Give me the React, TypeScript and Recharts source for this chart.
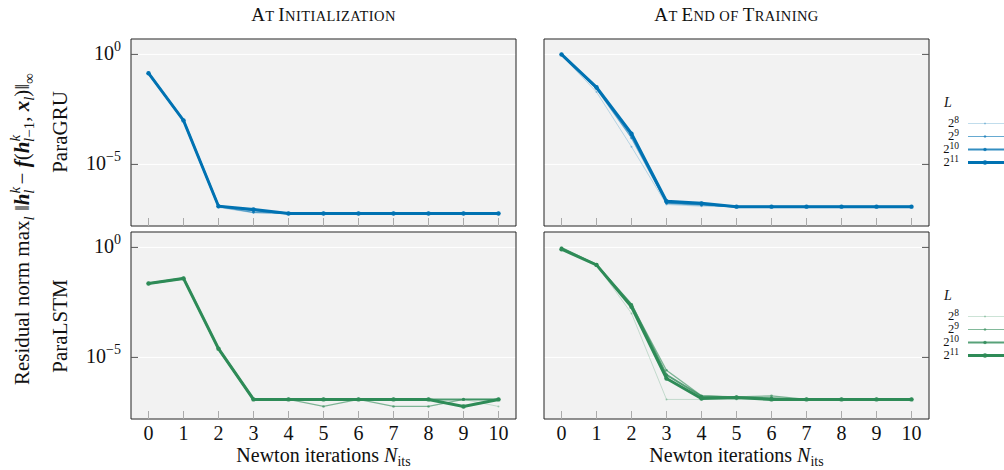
import React from 'react';
import { LineChart, Line, XAxis, YAxis, CartesianGrid, ReferenceArea } from 'recharts';

const ITERS = [0, 1, 2, 3, 4, 5, 6, 7, 8, 9, 10];
const L_EXPONENTS = ['8', '9', '10', '11'];
const SERIES_KEYS = ['L8', 'L9', 'L10', 'L11'];
const Y_TICKS = [1, 1e-5];
const Y_TICK_EXPONENTS = ['0', '\u22125'];

// residual norms, one list per sequence length L
const GRU_INIT = [
  [0.14, 1e-3, 1.1e-7, 6.3e-8, 5.9e-8, 5.9e-8, 5.9e-8, 5.9e-8, 5.9e-8, 5.9e-8, 5.9e-8],
  [0.14, 1e-3, 1.2e-7, 6.6e-8, 5.9e-8, 5.9e-8, 5.9e-8, 5.9e-8, 5.9e-8, 5.9e-8, 5.9e-8],
  [0.14, 1e-3, 1.26e-7, 8.2e-8, 5.9e-8, 5.9e-8, 5.9e-8, 5.9e-8, 5.9e-8, 5.9e-8, 5.9e-8],
  [0.14, 1e-3, 1.26e-7, 8.9e-8, 5.9e-8, 5.9e-8, 5.9e-8, 5.9e-8, 5.9e-8, 5.9e-8, 5.9e-8],
];
const GRU_END = [
  [0.9, 0.0195, 6.3e-5, 1.5e-7, 1.26e-7, 1.2e-7, 1.2e-7, 1.2e-7, 1.2e-7, 1.2e-7, 1.2e-7],
  [0.95, 0.027, 1.6e-4, 1.7e-7, 1.4e-7, 1.2e-7, 1.2e-7, 1.2e-7, 1.2e-7, 1.2e-7, 1.2e-7],
  [1.0, 0.031, 2.2e-4, 1.9e-7, 1.6e-7, 1.2e-7, 1.2e-7, 1.2e-7, 1.2e-7, 1.2e-7, 1.2e-7],
  [1.0, 0.032, 2.5e-4, 2.1e-7, 1.7e-7, 1.2e-7, 1.2e-7, 1.2e-7, 1.2e-7, 1.2e-7, 1.2e-7],
];
const LSTM_INIT = [
  [0.023, 0.039, 2.5e-5, 1.23e-7, 1.23e-7, 1.23e-7, 1.23e-7, 1.23e-7, 1.23e-7, 1.23e-7, 5.9e-8],
  [0.023, 0.039, 2.5e-5, 1.23e-7, 1.23e-7, 5.9e-8, 1.23e-7, 5.9e-8, 5.9e-8, 1.23e-7, 1.23e-7],
  [0.023, 0.039, 2.5e-5, 1.23e-7, 1.23e-7, 1.23e-7, 1.23e-7, 1.23e-7, 1.23e-7, 1.23e-7, 1.23e-7],
  [0.023, 0.039, 2.5e-5, 1.23e-7, 1.23e-7, 1.23e-7, 1.23e-7, 1.23e-7, 1.23e-7, 5.9e-8, 1.23e-7],
];
const LSTM_END = [
  [0.83, 0.16, 1e-3, 1.23e-7, 1.23e-7, 1.23e-7, 1.23e-7, 1.23e-7, 1.23e-7, 1.23e-7, 1.23e-7],
  [0.9, 0.16, 2.5e-3, 2.6e-6, 1.8e-7, 1.6e-7, 1.8e-7, 1.23e-7, 1.23e-7, 1.23e-7, 1.23e-7],
  [0.95, 0.16, 2.5e-3, 1.6e-6, 1.7e-7, 1.5e-7, 1.4e-7, 1.23e-7, 1.23e-7, 1.23e-7, 1.23e-7],
  [0.83, 0.16, 2e-3, 1.1e-6, 1.35e-7, 1.5e-7, 1.23e-7, 1.23e-7, 1.23e-7, 1.23e-7, 1.23e-7],
];

const BLUE = '#0072b2';
const GREEN = '#2e8b57';
const SERIES_STYLE = [
  { width: 0.7, opacity: 0.35, r: 1 },
  { width: 1.2, opacity: 0.6, r: 1.3 },
  { width: 2, opacity: 0.8, r: 1.7 },
  { width: 3, opacity: 1, r: 2.2 },
];
const Y_MIN = Math.pow(10, -7.8);
const Y_MAX = Math.pow(10, 0.7);
const FONT = '"Liberation Serif", "DejaVu Serif", serif';

function toRows(vals: number[][]) {
  return ITERS.map((x, i) => {
    const row: any = { x };
    SERIES_KEYS.forEach((k, s) => { row[k] = vals[s][i]; });
    return row;
  });
}

function XTickBottom(props: any) {
  const { x, y, payload, showLabel } = props;
  return (
    <g>
      <line x1={x} x2={x} y1={y} y2={y - 8} stroke="#aaa" strokeWidth={1} />
      {showLabel && (
        <text x={x} y={y + 21} textAnchor="middle" fontSize={20} fontFamily={FONT} fill="#111">
          {payload.value}
        </text>
      )}
    </g>
  );
}

function XTickTop(props: any) {
  const { x, y } = props;
  return <line x1={x} x2={x} y1={y} y2={y + 8} stroke="#aaa" strokeWidth={1} />;
}

function YTick(props: any) {
  const { x, y, index, side } = props;
  if (side === 'right') {
    return <line x1={x} x2={x - 7} y1={y} y2={y} stroke="#555" strokeWidth={1} />;
  }
  return (
    <g>
      <line x1={x} x2={x + 7} y1={y} y2={y} stroke="#555" strokeWidth={1} />
      <text x={x - 10} y={y + 6} textAnchor="end" fontSize={20} fontFamily={FONT} fill="#111">
        10<tspan dy={-9} fontSize={14}>{Y_TICK_EXPONENTS[index]}</tspan>
      </text>
    </g>
  );
}

interface PanelProps {
  vals: number[][];
  color: string;
  side: 'left' | 'right';
  bottom: boolean;
  left: number;
  top: number;
}

function Panel({ vals, color, side, bottom, left, top }: PanelProps) {
  const rows = toRows(vals);
  const width = side === 'left' ? 520 : 395;
  const height = bottom ? 260 : 230;
  const margin = side === 'left'
    ? { top: bottom ? 32 : 39, right: 4, left: 91, bottom: 0 }
    : { top: bottom ? 32 : 39, right: 5, left: 4, bottom: 0 };
  return (
    <div style={{ position: 'absolute', left, top }}>
      <LineChart width={width} height={height} data={rows} margin={margin}>
        <CartesianGrid vertical={false} stroke="#fff" strokeWidth={1} fill="#f2f2f2" fillOpacity={1} />
        <XAxis
          dataKey="x"
          type="number"
          domain={[-0.5, 10.5]}
          ticks={ITERS}
          interval={0}
          allowDataOverflow
          height={bottom ? 41 : 4}
          tickSize={0}
          tickMargin={0}
          axisLine={false}
          tickLine={false}
          tick={(p: any) => <XTickBottom {...p} showLabel={bottom} />}
        />
        <XAxis
          xAxisId="top"
          orientation="top"
          dataKey="x"
          type="number"
          domain={[-0.5, 10.5]}
          ticks={ITERS}
          interval={0}
          allowDataOverflow
          height={0}
          tickSize={0}
          tickMargin={0}
          axisLine={false}
          tickLine={false}
          tick={(p: any) => <XTickTop {...p} />}
        />
        <YAxis
          orientation={side}
          scale="log"
          type="number"
          domain={[Y_MIN, Y_MAX]}
          ticks={Y_TICKS}
          interval={0}
          allowDataOverflow
          width={side === 'left' ? 40 : 1}
          tickSize={0}
          tickMargin={0}
          axisLine={false}
          tickLine={false}
          tick={(p: any) => <YTick {...p} side={side} />}
        />
        <ReferenceArea
          x1={-0.5}
          x2={10.5}
          y1={Y_MIN}
          y2={Y_MAX}
          fill="none"
          stroke="#222"
          strokeWidth={1}
          ifOverflow="visible"
        />
        {SERIES_KEYS.map((k, s) => (
          <Line
            key={k}
            dataKey={k}
            type="linear"
            stroke={color}
            strokeWidth={SERIES_STYLE[s].width}
            strokeOpacity={SERIES_STYLE[s].opacity}
            dot={{ r: SERIES_STYLE[s].r, fill: color, stroke: 'none', fillOpacity: SERIES_STYLE[s].opacity }}
            activeDot={false}
            isAnimationActive={false}
          />
        ))}
      </LineChart>
    </div>
  );
}

function LegendBlock({ color, top }: { color: string; top: number }) {
  return (
    <g fontFamily={FONT} fill="#111">
      <text x={948} y={top} textAnchor="middle" fontSize={14} fontStyle="italic">L</text>
      {L_EXPONENTS.map((e, i) => {
        const base = top + 20 + i * 13;
        const st = SERIES_STYLE[i];
        return (
          <g key={e}>
            <text x={959} y={base} textAnchor="end" fontSize={12.5}>
              2<tspan dy={-4} fontSize={9.5}>{e}</tspan>
            </text>
            <line x1={968} x2={1004} y1={base - 3.5} y2={base - 3.5} stroke={color} strokeWidth={st.width} strokeOpacity={st.opacity} />
            <circle cx={985} cy={base - 3.5} r={st.r} fill={color} fillOpacity={st.opacity} />
          </g>
        );
      })}
    </g>
  );
}

function SmallCaps({ x, y, words }: { x: number; y: number; words: string[] }) {
  return (
    <text x={x} y={y} textAnchor="middle" fontSize={14.5} letterSpacing={0.4}>
      {words.map((w, i) => {
        const big = w[0] === w[0].toUpperCase();
        return (
          <React.Fragment key={i}>
            {i > 0 && <tspan> </tspan>}
            {big ? <tspan fontSize={19}>{w[0]}</tspan> : null}
            <tspan>{(big ? w.slice(1) : w).toUpperCase()}</tspan>
          </React.Fragment>
        );
      })}
    </text>
  );
}

export default function App() {
  return (
    <div style={{ position: 'absolute', left: 0, top: 0, width: 1004, height: 470, background: '#fff', overflow: 'hidden' }}>
      <Panel vals={GRU_INIT} color={BLUE} side="left" bottom={false} left={0} top={0} />
      <Panel vals={GRU_END} color={BLUE} side="right" bottom={false} left={540} top={0} />
      <Panel vals={LSTM_INIT} color={GREEN} side="left" bottom={true} left={0} top={200} />
      <Panel vals={LSTM_END} color={GREEN} side="right" bottom={true} left={540} top={200} />
      <svg width={1004} height={470} style={{ position: 'absolute', left: 0, top: 0, pointerEvents: 'none' }}>
        <g fontFamily={FONT} fill="#111">
          <SmallCaps x={323.5} y={21} words={['At', 'Initialization']} />
          <SmallCaps x={736.5} y={21} words={['At', 'End', 'of', 'Training']} />
          <text x={67} y={132} textAnchor="middle" fontSize={21} transform="rotate(-90 67 132)">ParaGRU</text>
          <text x={67} y={326} textAnchor="middle" fontSize={21} transform="rotate(-90 67 326)">ParaLSTM</text>
          <text x={29} y={229} textAnchor="middle" fontSize={21} transform="rotate(-90 29 229)">
            Residual norm max
            <tspan dy={5} fontSize={15} fontStyle="italic">l</tspan>
            <tspan dy={-5}> {'\u2016'}</tspan>
            <tspan fontWeight="bold" fontStyle="italic">h</tspan>
            <tspan dy={-9} fontSize={15} fontStyle="italic">k</tspan>
            <tspan dx={-7} dy={14} fontSize={15} fontStyle="italic">l</tspan>
            <tspan dy={-5}> {'\u2212'} </tspan>
            <tspan fontWeight="bold" fontStyle="italic">f</tspan>
            <tspan>(</tspan>
            <tspan fontWeight="bold" fontStyle="italic">h</tspan>
            <tspan dy={-9} fontSize={15} fontStyle="italic">k</tspan>
            <tspan dx={-7} dy={14} fontSize={15} fontStyle="italic">l</tspan>
            <tspan fontSize={15}>{'\u22121'}</tspan>
            <tspan dy={-5}>, </tspan>
            <tspan fontWeight="bold" fontStyle="italic">x</tspan>
            <tspan dy={5} fontSize={15} fontStyle="italic">l</tspan>
            <tspan dy={-5}>){'\u2016'}</tspan>
            <tspan dy={5} fontSize={15}>{'\u221e'}</tspan>
          </text>
          <text x={323.5} y={462} textAnchor="middle" fontSize={20}>
            Newton iterations <tspan fontStyle="italic">N</tspan>
            <tspan dy={4} fontSize={14}>its</tspan>
          </text>
          <text x={736.5} y={462} textAnchor="middle" fontSize={20}>
            Newton iterations <tspan fontStyle="italic">N</tspan>
            <tspan dy={4} fontSize={14}>its</tspan>
          </text>
        </g>
        <LegendBlock color={BLUE} top={107} />
        <LegendBlock color={GREEN} top={300} />
      </svg>
    </div>
  );
}
